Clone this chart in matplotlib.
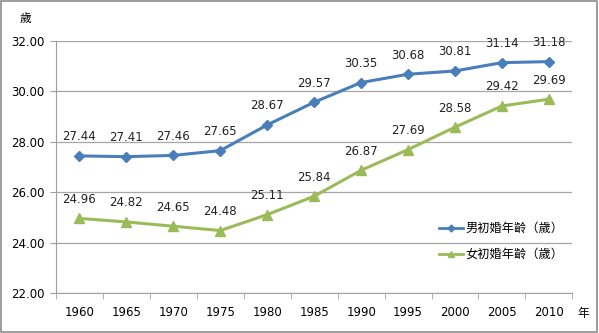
import numpy as np
import matplotlib.pyplot as plt
from matplotlib.patches import Rectangle
from matplotlib.lines import Line2D

plt.rcParams['font.family'] = ['DejaVu Sans', 'Noto Sans CJK TC']

years = ['1960', '1965', '1970', '1975', '1980', '1985', '1990', '1995', '2000', '2005', '2010']
male = [27.44, 27.41, 27.46, 27.65, 28.67, 29.57, 30.35, 30.68, 30.81, 31.14, 31.18]
female = [24.96, 24.82, 24.65, 24.48, 25.11, 25.84, 26.87, 27.69, 28.58, 29.42, 29.69]
labels = ['男初婚年齡（歲）', '女初婚年齡（歲）']

blue = '#4A7EBB'
green = '#9BBB59'
cjk = ['Noto Sans CJK TC', 'DejaVu Sans']

fig = plt.figure(figsize=(5.99, 3.33), dpi=100)
ax = fig.add_axes([0.0935, 0.12, 0.862, 0.757])
x = np.arange(len(years))

ax.plot(x, male, color=blue, lw=2.2, marker='D', ms=5.5)
ax.plot(x, female, color=green, lw=2.2, marker='^', ms=7.5)

for series in (male, female):
    for xi, v in zip(x, series):
        ax.annotate(f'{v:.2f}', (xi, v), xytext=(0, 9), textcoords='offset points',
                    ha='center', va='bottom', fontsize=8.5, color='#222222')

ax.set_ylim(22, 32)
ax.set_yticks(np.arange(22, 33, 2))
ax.set_yticklabels([f'{t:.2f}' for t in np.arange(22, 33, 2)], fontsize=8.5)
ax.set_xlim(-0.5, len(years) - 0.5)
ax.set_xticks(x)
ax.set_xticklabels(years, fontsize=8.5)
ax.set_xticks(np.arange(-0.5, len(years)), minor=True)
ax.tick_params(axis='x', which='major', length=0, pad=9)
ax.tick_params(axis='x', which='minor', length=4, color='#A0A0A0')
ax.tick_params(axis='y', length=4, color='#A0A0A0', pad=4)
ax.grid(axis='y', color='#A6A6A6', lw=0.9)
ax.set_axisbelow(True)
for s in ['top', 'right']:
    ax.spines[s].set_visible(False)
for s in ['left', 'bottom']:
    ax.spines[s].set_color('#A0A0A0')

handles = [Line2D([], [], color=blue, lw=2, marker='D', ms=3.5),
           Line2D([], [], color=green, lw=2, marker='^', ms=5)]
ax.legend(handles, labels, loc='upper left', bbox_to_anchor=(0.72, 0.325), frameon=False,
          prop={'family': cjk, 'size': 8.8}, handlelength=2.0,
          labelspacing=1.05, handletextpad=0.2)

fig.text(0.042, 0.945, '歲', family=cjk, fontsize=8.5, ha='center', va='center')
fig.text(0.973, 0.06, '年', family=cjk, fontsize=8.5, ha='center', va='center')

fig.patches.append(Rectangle((0.002, 0.004), 0.995, 0.992, transform=fig.transFigure,
                             fill=False, edgecolor='#8C8C8C', lw=1.2))

fig.savefig('out.png', dpi=100)
